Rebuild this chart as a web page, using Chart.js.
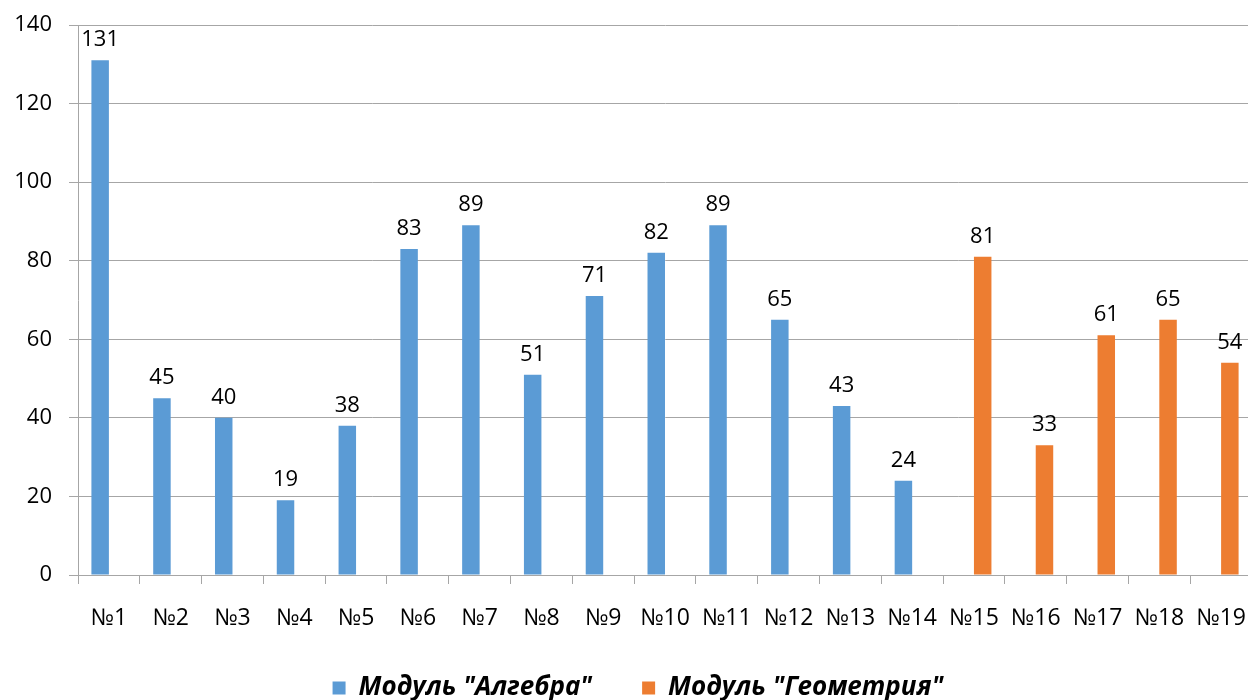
<!DOCTYPE html>
<html>
<head>
<meta charset="utf-8">
<script src="https://cdn.jsdelivr.net/npm/chart.js@4.4.1/dist/chart.umd.min.js"></script>
<style>
  html, body { margin: 0; padding: 0; background: #fff; overflow: hidden; }
  #wrap { position: absolute; left: 0; top: 0; width: 1252px; height: 700px; }
</style>
</head>
<body>
<div id="wrap"><canvas id="chart"></canvas></div>
<script>
const categories = ['№1', '№2', '№3', '№4', '№5', '№6', '№7', '№8', '№9', '№10',
                    '№11', '№12', '№13', '№14', '№15', '№16', '№17', '№18', '№19'];
const algebra  = [131, 45, 40, 19, 38, 83, 89, 51, 71, 82, 89, 65, 43, 24, null, null, null, null, null];
const geometry = [null, null, null, null, null, null, null, null, null, null, null, null, null, null, 81, 33, 61, 65, 54];
const yTicks   = [0, 20, 40, 60, 80, 100, 120, 140];

const FONT = '"Open Sans", "Noto Sans", sans-serif';
const gridColor = '#a6a6a6';

// value labels above each bar
const barLabels = {
    id: 'barLabels',
    afterDatasetsDraw(chart) {
        const ctx = chart.ctx;
        ctx.save();
        ctx.font = '22px ' + FONT;
        ctx.fillStyle = '#000';
        ctx.textAlign = 'center';
        ctx.textBaseline = 'alphabetic';
        chart.data.datasets.forEach((ds, i) => {
            chart.getDatasetMeta(i).data.forEach((bar, j) => {
                const v = ds.data[j];
                if (v === null || v === undefined) return;
                ctx.fillText(String(v), bar.x, bar.y - 14);
            });
        });
        ctx.restore();
    }
};

// legend sits a bit right of the canvas centre in the original
const legendShift = {
    id: 'legendShift',
    afterLayout(chart) {
        chart.legend.left += 12;
        chart.legend.right += 12;
    }
};

new Chart(document.getElementById('chart'), {
    type: 'bar',
    data: {
        labels: categories,
        datasets: [
            {
                label: 'Модуль "Алгебра"',
                data: algebra,
                backgroundColor: '#5b9bd5',
                categoryPercentage: 0.566,
                barPercentage: 1
            },
            {
                label: 'Модуль "Геометрия"',
                data: geometry,
                backgroundColor: '#ed7d31',
                categoryPercentage: 0.566,
                barPercentage: 1
            }
        ]
    },
    options: {
        responsive: true,
        maintainAspectRatio: false,
        animation: false,
        devicePixelRatio: 1,
        layout: { padding: { top: 25, left: 0, right: 0, bottom: -11 } },
        plugins: {
            tooltip: { enabled: false },
            legend: {
                position: 'bottom',
                labels: {
                    boxWidth: 13,
                    boxHeight: 13,
                    padding: 50,
                    color: '#000',
                    font: { family: FONT, size: 26, weight: 'bold', style: 'italic' }
                }
            }
        },
        scales: {
            x: {
                offset: true,
                grid: {
                    drawOnChartArea: false,
                    drawTicks: true,
                    tickLength: 9,
                    color: gridColor,
                    offset: true
                },
                border: { display: true, color: gridColor },
                ticks: {
                    color: '#000',
                    padding: 21,
                    maxRotation: 0,
                    autoSkip: false,
                    font: { family: FONT, size: 23 }
                },
                afterFit: s => { s.height = 50; s.paddingLeft = 0; s.paddingRight = 0; }
            },
            y: {
                min: 0,
                max: 140,
                afterBuildTicks: s => { s.ticks = yTicks.map(v => ({ value: v })); },
                grid: { color: gridColor, tickLength: 9 },
                border: { display: true, color: gridColor },
                ticks: {
                    color: '#000',
                    padding: 17,
                    font: { family: FONT, size: 22 }
                },
                afterFit: s => { s.width = 78; s.paddingTop = 0; s.paddingBottom = 0; }
            }
        }
    },
    plugins: [barLabels, legendShift]
});
</script>
</body>
</html>
